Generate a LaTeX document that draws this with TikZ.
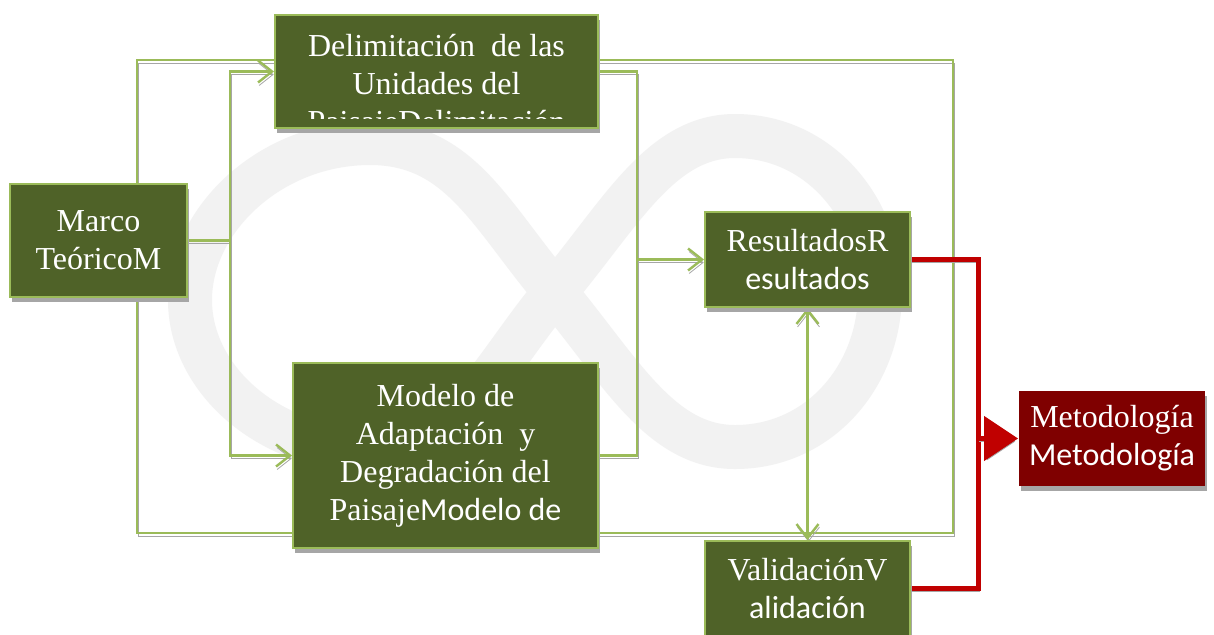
\documentclass[tikz,border=0pt]{standalone}
\usepackage{fontspec}
\setmainfont{Liberation Serif}
\newfontfamily\calibri{Carlito}
\usepackage{xcolor}
\usetikzlibrary{positioning, calc, arrows.meta, shadows, backgrounds}
\definecolor{olivebox}{HTML}{4F6228}
\definecolor{leafline}{HTML}{9BBB59}
\definecolor{bloodred}{HTML}{7F0000}
\definecolor{signalred}{HTML}{C00000}
\definecolor{shade}{HTML}{A6A6A6}
\definecolor{ghost}{HTML}{F2F2F2}
\tikzset{block/.style={draw=leafline, line width=1pt, fill=olivebox, text=white, align=center,
    font=\fontsize{16}{19}\selectfont, inner sep=0pt,
    drop shadow={shadow xshift=1pt, shadow yshift=-2.5pt, opacity=1, fill=shade}},
  redblock/.style={block, draw=none, fill=bloodred},
  link/.style={draw=leafline, line width=1.2pt, -{Straight Barb[length=7pt,width=11pt]},
    preaction={draw=shade, transform canvas={xshift=0.5pt, yshift=-1.5pt}}},
  twoway/.style={link, {Straight Barb[length=7pt,width=11pt]}-{Straight Barb[length=7pt,width=11pt]}},
  plainlink/.style={link, -},
  bigloop/.style={plainlink, line width=0.8pt},
  redlink/.style={draw=signalred, line width=2.5pt, line join=miter,
    preaction={draw=shade, transform canvas={xshift=0.5pt, yshift=-1.5pt}}},
  redarrow/.style={redlink, -{Triangle[length=17pt,width=22pt]}},
  watermark/.style={draw=ghost, line width=22pt, line join=round}
}
\begin{document}
\begin{tikzpicture}[x=0.5pt, y=-0.5pt]
\useasboundingbox (0,0) rectangle (1214,634);
% boxes
\node[block, minimum width=88.5pt, minimum height=56.5pt] (marco) at (98.5,240.5) {Marco\\TeóricoM};
\node[block, minimum width=161.5pt, minimum height=56.5pt] (delim) at (436.5,71.5) {};
\node[block, minimum width=102.5pt, minimum height=47.5pt] (result) at (807.5,259.5) {ResultadosR\\{\calibri esultados}};
\node[block, minimum width=152.5pt, minimum height=92.5pt] (modelo) at (445.5,455.5)
  {Modelo de\\Adaptación\ \ y\\Degradación del\\Paisaje{\calibri Modelo de}};
\node[block, minimum width=102.5pt, minimum height=47.5pt] (valid) at (807.5,588.5) {ValidaciónV\\{\calibri alidación}};
\node[redblock, minimum width=93pt, minimum height=47.5pt] (metod) at (1112,438.5) {Metodología\\{\calibri Metodología}};
% the third line of the upper box is cut by its text frame
\begin{scope}
  \clip (delim.north west) rectangle ($(delim.south east)+(0,-11)$);
  \node[text=white, align=center, font=\fontsize{16}{19}\selectfont] (delimtext) at ($(delim.center)+(0,15)$)
    {Delimitación\ \ de las\\Unidades del\\PaisajeDelimitación};
\end{scope}
\begin{scope}[on background layer]
  \fill[white] (0,0) rectangle (1214,634);
  % infinity sign behind the diagram
  \draw[watermark] (555,292) .. controls (620,215) and (660,136) .. (735,136)
    .. controls (820,136) and (880,210) .. (880,292) .. controls (880,375) and (820,447) .. (735,447)
    .. controls (660,447) and (620,370) .. (555,292) .. controls (490,215) and (460,143) .. (370,143)
    .. controls (270,143) and (190,220) .. (190,300) .. controls (190,380) and (270,450) .. (370,450)
    .. controls (460,450) and (490,370) .. (555,292);
  % connectors
  \coordinate (loopNW) at (137,60);
  \coordinate (loopSE) at (953,533);
  \coordinate (split) at (230,0);
  \coordinate (merge) at (637,0);
  \coordinate (redbus) at (978,0);
  \draw[bigloop] (marco.north -| loopNW) -- (loopNW) -| (loopSE) -| (marco.south -| loopNW);
  \draw[link] (marco.east) -- (marco.east -| split) |- (delim.west);
  \draw[link] (marco.east -| split) |- (modelo.west);
  \draw[link] (delim.east) -- (delim.east -| merge) |- (result.west);
  \draw[plainlink] (modelo.east) -- (modelo.east -| merge) -- (merge |- result.west);
  \draw[twoway] (result.south) -- (valid.north);
  \draw[redlink] (result.east) -- (result.east -| redbus) -- (valid.east -| redbus) -- (valid.east);
  \draw[redarrow] (redbus |- metod.west) -- (metod.west);
\end{scope}
\end{tikzpicture}
\end{document}
